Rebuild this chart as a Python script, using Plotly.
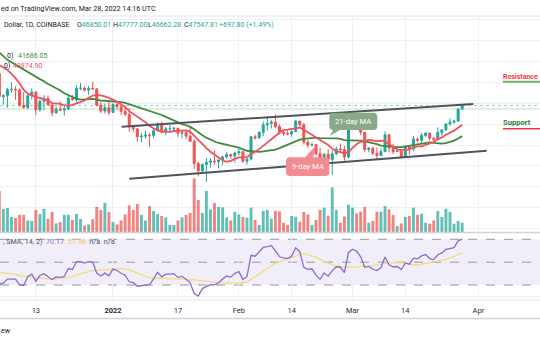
import numpy as np
import pandas as pd
import plotly.graph_objects as go

# ---------------------------------------------------------------- data
dates = pd.date_range("2021-12-04", "2022-03-28", freq="D")

opens = [
    53600, 49200, 49390, 50560, 50620, 50500, 47550, 47140, 49390, 50100,
    46700, 48350, 48870, 47630, 46130, 46830, 46680, 46880, 48930, 48620,
    50820, 50850, 50440, 50800, 50700, 47540, 46460, 47120,
    46210, 47730, 47300, 46440, 45830, 43430, 43080, 41560, 41680, 41860,
    41830, 42740, 43920, 42590, 43080, 43100, 43180, 42240, 42380, 41690,
    40700, 36470, 35060, 36280, 36690, 36950, 36830, 37150, 37710, 38180, 37920,
    38480, 38720, 36900, 37330, 41570, 41380, 42410, 43840, 44090, 44380,
    43520, 42400, 42200, 42080, 42540, 44560, 43900, 40550, 40000, 40110,
    38370, 37010, 38250, 37250, 38330, 39220, 39110, 37700,
    43190, 44420, 43900, 42450, 39140, 39400, 38420, 37990, 38740, 41950,
    39430, 38730, 38810, 37800, 39670, 39280, 41120, 40920, 41820, 42262.95,
    41280, 41020, 42380, 42900, 44000, 44350, 44546.28, 46850.01,
]
highs = [
    53860, 49700, 50900, 51950, 51200, 50800, 50100, 49500, 50800, 50200,
    48700, 49500, 49450, 47990, 47300, 48300, 47500, 49300, 49550, 51380,
    51800, 51150, 51280, 52090, 50700, 48140, 47900, 48550,
    47950, 47990, 47570, 47500, 47070, 43750, 43130, 42300, 42800, 42250,
    43100, 44350, 44450, 43450, 43800, 43480, 43190, 42700, 42580, 43500,
    41100, 36830, 36500, 37550, 37550, 38950, 37230, 38000, 38700, 38380, 38750,
    39250, 38850, 37400, 41750, 41950, 42650, 44500, 45500, 44800, 45850,
    43920, 43000, 42750, 42850, 44750, 44580, 44200, 40950, 40450, 40150,
    39500, 38450, 39250, 39000, 39700, 40300, 39850, 43750,
    44950, 45400, 44100, 42500, 39620, 39650, 39550, 39400, 42600, 42050,
    40250, 39350, 39300, 39900, 39870, 41700, 41480, 42300, 42400, 42300,
    41550, 43350, 42900, 44180, 45100, 44800, 46950, 47777.00,
]
lows = [
    42000, 47700, 47100, 50000, 48600, 47300, 46900, 46800, 48650, 45700,
    46300, 46600, 47550, 45500, 45950, 46400, 45600, 46630, 48450, 48050,
    50420, 50200, 49500, 50450, 47350, 46100, 46000, 45680,
    46200, 46650, 45700, 45500, 42500, 42430, 40650, 40500, 41250, 39650,
    41270, 42460, 42300, 41850, 42570, 42600, 41550, 41250, 41150, 40600,
    35450, 34010, 34620, 32930, 35700, 36250, 35500, 36200, 37350, 37350, 36650,
    38000, 36600, 36250, 37050, 40980, 41150, 41650, 42700, 43150, 43200,
    42000, 41750, 41850, 41570, 42450, 43300, 40100, 39450, 39650, 38000,
    36820, 36350, 37050, 34330, 38050, 38600, 37000, 37450,
    42850, 43350, 41850, 38600, 38600, 38100, 37150, 37850, 38650, 38550,
    38250, 38650, 37600, 37580, 38120, 38850, 40500, 40150, 41500, 40900,
    40500, 40900, 41750, 42650, 43600, 44080, 44420, 46662.28,
]
closes = [
    49200, 49390, 50560, 50620, 50500, 47550, 47140, 49390, 50100, 46700,
    48350, 48870, 47630, 46130, 46830, 46680, 46880, 48930, 48620, 50820,
    50850, 50440, 50800, 50700, 47540, 46460, 47120, 46210,
    47730, 47300, 46440, 45830, 43430, 43080, 41560, 41680, 41860, 41830,
    42740, 43920, 42590, 43080, 43100, 43180, 42240, 42380, 41690, 40700,
    36470, 35060, 36280, 36690, 36950, 36830, 37150, 37710, 38180, 37920, 38480,
    38720, 36900, 37330, 41570, 41380, 42410, 43840, 44090, 44380, 43520,
    42400, 42200, 42080, 42540, 44560, 43900, 40550, 40000, 40110, 38370,
    37010, 38250, 37250, 38330, 39220, 39110, 37700, 43190,
    44420, 43900, 42450, 39140, 39400, 38420, 37990, 38740, 41950, 39430,
    38730, 38810, 37800, 39670, 39280, 41120, 40920, 41820, 42262.95, 41280,
    41020, 42380, 42900, 44000, 44350, 44546.28, 46850.01, 47547.81,
]
# daily volume, thousand BTC
volumes = [
    26.7, 15.0, 15.6, 9.8, 9.1, 11.1, 11.1, 7.5, 7.2, 14.3,
    11.7, 15.0, 8.5, 13.0, 5.6, 6.5, 11.1, 11.1, 7.8, 11.7,
    8.5, 4.3, 4.9, 8.3, 16.3, 14.3, 18.9, 13.0,
    6.5, 4.9, 7.5, 11.4, 17.3, 14.3, 18.2, 11.1, 7.5, 16.9,
    13.7, 11.7, 10.4, 9.5, 4.6, 4.6, 7.5, 9.5, 11.1, 12.4,
    34.8, 20.8, 12.4, 26.7, 14.7, 18.9, 16.3, 16.0, 9.5, 7.5, 13.0,
    11.4, 9.8, 9.3, 15.8, 7.8, 4.6, 13.7, 14.3, 8.6, 13.8,
    13.4, 6.0, 4.6, 10.4, 9.9, 6.7, 13.0, 11.4, 4.6, 7.8,
    14.3, 15.8, 10.6, 29.0, 14.3, 6.0, 10.1, 17.7,
    15.8, 12.1, 13.2, 16.4, 6.0, 7.2, 13.2, 13.2, 16.9, 14.7,
    11.1, 3.9, 5.6, 9.8, 10.4, 15.8, 11.1, 11.9, 6.0, 5.4,
    7.5, 13.7, 9.8, 15.1, 13.0, 5.4, 7.2, 6.0,
]
# closes before the first visible session (16 Oct - 3 Dec 2021), used by the indicators
prior_closes = [
    60900, 61500, 62000, 64300, 66000, 62200, 60700, 61300, 60850, 63100,
    60350, 58450, 60600, 62250, 61850, 61300,
    61000, 63250, 62950, 61450, 61000, 61500, 63300, 67550, 66950, 64900,
    64800, 64150, 64400, 65500, 63600, 60100, 60350, 56900, 58100, 59750,
    58700, 56300, 57550, 57150, 58950, 53750, 54750, 57300, 57800, 56950,
    57200, 56500, 53600,
]

tick_dates = ["2021-12-13", "2022-01-01", "2022-01-17", "2022-02-01",
              "2022-02-14", "2022-03-01", "2022-03-14", "2022-04-01"]
tick_labels = ["13", "<b>2022</b>", "17", "Feb", "14", "Mar", "14", "Apr"]

n = len(dates)
assert len(opens) == len(highs) == len(lows) == len(closes) == len(volumes) == n

# ---------------------------------------------------------------- indicators
origin = pd.Timestamp("2022-01-01")
day = np.array((dates - origin).days, dtype=float)
tick_days = [(pd.Timestamp(t) - origin).days for t in tick_dates]

hist = pd.Series(prior_closes + closes, dtype=float)
ma9 = hist.rolling(9).mean().to_numpy()[-n:]
ma21 = hist.rolling(21).mean().to_numpy()[-n:]


def rma(values, length):
    out = np.full(len(values), np.nan)
    out[length] = np.mean(values[1:length + 1])
    for i in range(length + 1, len(values)):
        out[i] = (out[i - 1] * (length - 1) + values[i]) / length
    return out


delta = hist.diff().to_numpy()
gain = rma(np.where(delta > 0, delta, 0.0), 14)
loss = rma(np.where(delta < 0, -delta, 0.0), 14)
rsi_all = 100 - 100 / (1 + gain / loss)
rsi_ma_all = pd.Series(rsi_all).rolling(14).mean().to_numpy()
rsi = rsi_all[-n:]
rsi_ma = rsi_ma_all[-n:]

# ---------------------------------------------------------------- style
FONT = "Roboto"
UP, DOWN = "#26a69a", "#ef5350"
GRID = "#edf0f5"
TEXT = "#131722"
W, H = 540, 340


def px(x):
    return x / W


def py(y):
    return 1 - y / H


x_range = [-27.83, 105.17]
price_range = [23426, 64574]
vol_range = [0, 140.4]
rsi_range = [16.9, 75.5]

fig = go.Figure()

vol_colors = [
    "rgba(38,166,154,0.72)" if c >= o else "rgba(239,83,80,0.72)"
    for o, c in zip(opens, closes)
]
fig.add_trace(go.Bar(x=day, y=volumes, marker=dict(color=vol_colors, line=dict(width=0)),
                     width=0.72, xaxis="x", yaxis="y", hoverinfo="skip"))

fig.add_trace(go.Candlestick(
    x=day, open=opens, high=highs, low=lows, close=closes,
    increasing=dict(line=dict(color=UP, width=1), fillcolor=UP),
    decreasing=dict(line=dict(color=DOWN, width=1), fillcolor=DOWN),
    whiskerwidth=0, xaxis="x", yaxis="y2", hoverinfo="skip"))

fig.add_trace(go.Scatter(x=day, y=ma21, mode="lines", line=dict(color="#3f8a3f", width=1.8),
                         xaxis="x", yaxis="y2", hoverinfo="skip"))
fig.add_trace(go.Scatter(x=day, y=ma9, mode="lines", line=dict(color="#f2515f", width=1.8),
                         xaxis="x", yaxis="y2", hoverinfo="skip"))

fig.add_trace(go.Scatter(x=day, y=rsi_ma, mode="lines", line=dict(color="#f3dc7a", width=1.3),
                         xaxis="x", yaxis="y3", hoverinfo="skip"))
fig.add_trace(go.Scatter(x=day, y=rsi, mode="lines", line=dict(color="#8c6bd0", width=1.3),
                         xaxis="x", yaxis="y3", hoverinfo="skip"))

shapes = []

# RSI band and level lines
shapes.append(dict(type="rect", xref="paper", yref="y3", x0=0, x1=1, y0=30, y1=70,
                   fillcolor="rgba(126,87,194,0.10)", line=dict(width=0), layer="below"))
for lvl in (70, 50, 30):
    shapes.append(dict(type="line", xref="paper", yref="y3", x0=0, x1=1, y0=lvl, y1=lvl,
                       line=dict(color="#9598a1", width=1, dash="dash"), layer="below"))

# horizontal price levels and the last-price line
level_prices = [47943, 46858]
for lv in level_prices:
    shapes.append(dict(type="line", xref="paper", yref="y2", x0=0, x1=1, y0=lv, y1=lv,
                       line=dict(color="#c5e1c5", width=1), layer="below"))
shapes.append(dict(type="line", xref="paper", yref="y2", x0=0, x1=1,
                   y0=closes[-1], y1=closes[-1],
                   line=dict(color="#8fcfc8", width=1, dash="dot"), layer="below"))

# ascending channel
channel = [((2.14, 43486), (88.74, 47810)), ((4.01, 33580), (92.04, 38914))]
for (d0, p0), (d1, p1) in channel:
    shapes.append(dict(type="line", xref="x", yref="y2", x0=d0, y0=p0, x1=d1, y1=p1,
                       line=dict(color="#50535e", width=2)))

# resistance / support markers
resistance_price, support_price = 52058, 43105
shapes.append(dict(type="line", xref="x", yref="y2", x0=96.06, x1=106, y0=resistance_price,
                   y1=resistance_price, line=dict(color="#6cb36c", width=2)))
shapes.append(dict(type="line", xref="x", yref="y2", x0=96.06, x1=106, y0=support_price,
                   y1=support_price, line=dict(color="#f23645", width=1.5)))


def callout(cx, cy, hw, hh, tail_side, tail_x0, tail_x1, tip, rx=0.985, ry=762):
    x0, x1, y0, y1 = cx - hw, cx + hw, cy - hh, cy + hh
    tx, ty = tip
    p = [f"M{x0 + rx},{y1}"]
    if tail_side == "top":
        p += [f"L{tail_x0},{y1}", f"L{tx},{ty}", f"L{tail_x1},{y1}"]
    p += [f"L{x1 - rx},{y1}", f"Q{x1},{y1} {x1},{y1 - ry}", f"L{x1},{y0 + ry}",
          f"Q{x1},{y0} {x1 - rx},{y0}"]
    if tail_side == "bottom":
        p += [f"L{tail_x1},{y0}", f"L{tx},{ty}", f"L{tail_x0},{y0}"]
    p += [f"L{x0 + rx},{y0}", f"Q{x0},{y0} {x0},{y0 + ry}", f"L{x0},{y1 - ry}",
          f"Q{x0},{y1} {x0 + rx},{y1}", "Z"]
    return " ".join(p)


shapes.append(dict(type="path", xref="x", yref="y2",
                   path=callout(59.19, 44505, 5.91, 1648, "bottom", 54.2, 55.9, (53.4, 41700)),
                   fillcolor="#88aa88", line=dict(width=0)))
shapes.append(dict(type="path", xref="x", yref="y2",
                   path=callout(47.95, 35875, 5.34, 1781, "top", 47.3, 49.3, (50.0, 40000)),
                   fillcolor="#f48b90", line=dict(width=0)))

# pane borders
for ypix, col, wd in ((16, "#e0e3eb", 1), (232.5, "#cfd2da", 1.5), (300, "#e0e3eb", 1),
                      (318.5, "#d1d4dc", 1.5)):
    shapes.append(dict(type="line", xref="paper", yref="paper", x0=0, x1=1,
                       y0=py(ypix), y1=py(ypix), line=dict(color=col, width=wd)))

# ---------------------------------------------------------------- text
ann = []


def note(text, x, y, xanchor="left", size=7, color=TEXT, xref="paper", yref="paper"):
    ann.append(dict(text=text, x=x, y=y, xref=xref, yref=yref, xanchor=xanchor,
                    yanchor="middle", showarrow=False, borderpad=0,
                    font=dict(family=FONT, size=size, color=color)))


def span(v, color):
    return f"<span style='color:{color}'>{v}</span>"


def teal(v):
    return span(v, UP)


# header and legends (the strip begins mid-way through each caption)
note("ed on TradingView.com, Mar 28, 2022 14:16 UTC", px(0), py(8), size=7.2)
note("Dollar, 1D, COINBASE", px(3), py(25))
note("O" + teal(f"{opens[-1]:.2f}"), px(76), py(25))
note("H" + teal(f"{highs[-1]:.2f}"), px(112), py(25))
note("L" + teal(f"{lows[-1]:.2f}"), px(147), py(25))
note("C" + teal(f"{closes[-1]:.2f}"), px(183), py(25))
chg = closes[-1] - closes[-2]
note(teal(f"{chg:+.2f} ({chg / closes[-2] * 100:+.2f}%)"), px(218), py(25))

note("0)", px(6), py(56))
note(f"{ma21[-1]:.2f}", px(17), py(56), color="#3f8a3f")
note("0)", px(3), py(66))
note(f"{ma9[-1]:.2f}", px(12), py(66), color="#f2515f")

GAP = "&nbsp;&nbsp;"
rsi_legend = (", SMA, 14, 2)" + GAP + span(f"{rsi[-1]:.2f}", "#8c6bd0") + GAP
              + span(f"{rsi_ma[-1]:.2f}", "#e8cc55") + GAP + "n/a" + GAP + "n/a")
note(rsi_legend, px(2), py(241), size=7.2, color="#50535e")

note("ew", px(0), py(330), size=7.2)

note("<b>Resistance</b>", 95.7, 53011, xref="x", yref="y2", size=7, color="#f23645")
note("<b>Support</b>", 95.7, 44248, xref="x", yref="y2", size=7.6, color="#2e7d32")
note("21-day MA", 59.19, 44505, "center", xref="x", yref="y2", size=7.6, color="white")
note("9-day MA", 47.95, 35875, "center", xref="x", yref="y2", size=7.6, color="white")

# ---------------------------------------------------------------- layout
main_dom = [py(232), py(16)]
rsi_dom = [py(300), py(233)]

fig.update_layout(
    width=W, height=H, margin=dict(l=0, r=0, t=0, b=0),
    paper_bgcolor="white", plot_bgcolor="white", showlegend=False,
    hovermode=False, shapes=shapes, annotations=ann,
    xaxis=dict(range=x_range, domain=[0, 1], anchor="y3", tickmode="array",
               tickvals=tick_days, ticktext=tick_labels, showgrid=True, gridcolor=GRID,
               gridwidth=1, zeroline=False, showline=False, ticks="outside", ticklen=3,
               tickcolor="rgba(0,0,0,0)", tickfont=dict(family=FONT, size=7.5, color="#2a2e39"),
               rangeslider=dict(visible=False), fixedrange=True),
    yaxis=dict(domain=main_dom, range=vol_range, visible=False, fixedrange=True),
    yaxis2=dict(overlaying="y", anchor="x", range=price_range, tick0=0, dtick=4000,
                showgrid=True, gridcolor=GRID, gridwidth=1, zeroline=False,
                showticklabels=False, ticks="", side="right", fixedrange=True),
    yaxis3=dict(domain=rsi_dom, anchor="x", range=rsi_range, tickvals=[20, 40, 60],
                showgrid=True, gridcolor=GRID, gridwidth=1, zeroline=False,
                showticklabels=False, ticks="", fixedrange=True),
)

fig.write_html("out.html")
